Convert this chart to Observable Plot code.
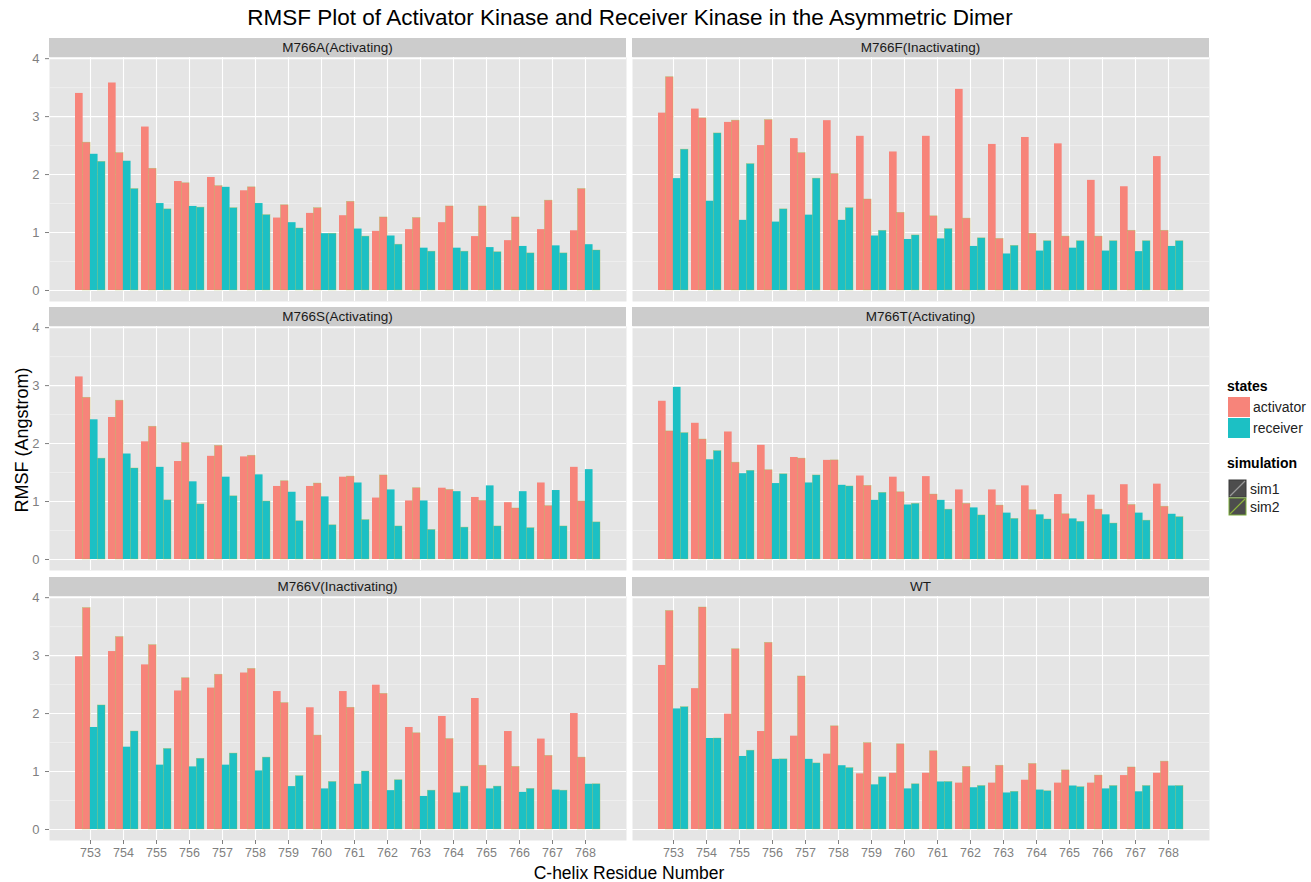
<!DOCTYPE html>
<html>
<head>
<meta charset="utf-8">
<script src="https://cdn.jsdelivr.net/npm/d3@7"></script>
<script src="https://cdn.jsdelivr.net/npm/@observablehq/plot@0.6"></script>
<style>
  html, body { margin: 0; padding: 0; background: #fff; }
  #root { position: relative; width: 1311px; height: 882px; font-family: "Liberation Sans", Arial, sans-serif; overflow: hidden; }
  .abs { position: absolute; }
  .strip { position: absolute; background: #CCCCCC; color: #1a1a1a; font-size: 13.5px; text-align: center; height: 19px; line-height: 20px; }
  .title { position: absolute; left: 0; width: 1260px; top: 5px; text-align: center; font-size: 22.5px; color: #000; }
  .xtitle { position: absolute; left: 49px; width: 1160px; top: 864px; height: 18px; line-height: 18px; text-align: center; font-size: 17.5px; color: #000; }
  .ytitle { position: absolute; left: 22px; top: 440px; transform: translate(-50%, -50%) rotate(-90deg); font-size: 18px; color: #000; white-space: nowrap; }
</style>
</head>
<body>
<div id="root"></div>
<script>
// ---------------- data ----------------
const residues = [753,754,755,756,757,758,759,760,761,762,763,764,765,766,767,768];
const panelNames = ["M766A(Activating)","M766F(Inactivating)","M766S(Activating)","M766T(Activating)","M766V(Inactivating)","WT"];
const stateNames = ["activator","receiver"];
const simNames = ["sim1","sim2"];
const yTicks = [0,1,2,3,4];
const yMinorTicks = [0.5,1.5,2.5,3.5];

// each panel: [activator sim1, activator sim2, receiver sim1, receiver sim2]
const M766A_actSim1 = [3.40,3.58,2.82,1.88,1.95,1.72,1.25,1.33,1.29,1.02,1.05,1.17,0.93,0.86,1.05,1.03];
const M766A_actSim2 = [2.55,2.37,2.10,1.85,1.80,1.78,1.47,1.42,1.53,1.26,1.25,1.45,1.45,1.26,1.55,1.75];
const M766A_recSim1 = [2.35,2.23,1.50,1.45,1.78,1.50,1.17,0.98,1.06,0.94,0.73,0.73,0.74,0.76,0.77,0.79];
const M766A_recSim2 = [2.22,1.75,1.40,1.43,1.42,1.30,1.07,0.98,0.93,0.79,0.67,0.67,0.66,0.64,0.64,0.69];

const M766F_actSim1 = [3.06,3.13,2.90,2.50,2.62,2.93,2.66,2.39,2.66,3.47,2.52,2.64,2.53,1.90,1.79,2.31];
const M766F_actSim2 = [3.68,2.97,2.93,2.94,2.37,2.01,1.57,1.34,1.28,1.24,0.89,0.98,0.93,0.93,1.03,1.03];
const M766F_recSim1 = [1.93,1.54,1.21,1.18,1.30,1.21,0.94,0.88,0.89,0.76,0.63,0.68,0.73,0.68,0.67,0.76];
const M766F_recSim2 = [2.43,2.71,2.18,1.40,1.93,1.42,1.03,0.95,1.06,0.90,0.77,0.85,0.85,0.85,0.85,0.85];

const M766S_actSim1 = [3.15,2.45,2.03,1.69,1.78,1.77,1.26,1.26,1.42,1.06,1.01,1.23,1.07,0.98,1.32,1.59];
const M766S_actSim2 = [2.79,2.74,2.29,2.01,1.96,1.79,1.35,1.31,1.43,1.45,1.23,1.20,1.01,0.88,0.92,1.00];
const M766S_recSim1 = [2.41,1.82,1.59,1.34,1.42,1.46,1.16,1.08,1.32,1.20,1.01,1.17,1.27,1.17,1.19,1.55];
const M766S_recSim2 = [1.74,1.57,1.02,0.95,1.09,1.00,0.66,0.59,0.68,0.57,0.51,0.55,0.57,0.54,0.57,0.64];

const M766T_actSim1 = [2.73,2.35,2.20,1.97,1.76,1.71,1.44,1.42,1.43,1.20,1.20,1.27,1.12,1.11,1.29,1.30];
const M766T_actSim2 = [2.21,2.07,1.67,1.54,1.74,1.71,1.27,1.16,1.12,0.96,0.93,0.85,0.78,0.86,0.94,0.91];
const M766T_recSim1 = [2.97,1.72,1.48,1.31,1.32,1.28,1.02,0.94,1.02,0.89,0.80,0.77,0.70,0.77,0.80,0.78];
const M766T_recSim2 = [2.18,1.87,1.53,1.47,1.45,1.26,1.15,0.96,0.86,0.76,0.70,0.69,0.65,0.62,0.67,0.73];

const M766V_actSim1 = [2.98,3.07,2.84,2.39,2.44,2.70,2.38,2.10,2.38,2.49,1.76,1.95,2.26,1.69,1.56,2.00];
const M766V_actSim2 = [3.82,3.32,3.18,2.61,2.67,2.77,2.18,1.62,2.10,2.34,1.66,1.56,1.10,1.08,1.27,1.24];
const M766V_recSim1 = [1.76,1.42,1.11,1.08,1.11,1.01,0.74,0.70,0.78,0.67,0.57,0.63,0.70,0.64,0.68,0.78];
const M766V_recSim2 = [2.14,1.69,1.39,1.22,1.31,1.24,0.92,0.82,1.00,0.85,0.67,0.74,0.74,0.70,0.67,0.78];

const WT_actSim1 = [2.83,2.43,1.99,1.69,1.61,1.30,0.96,0.97,0.97,0.80,0.80,0.85,0.80,0.80,0.93,0.97];
const WT_actSim2 = [3.77,3.83,3.11,3.22,2.64,1.78,1.49,1.47,1.35,1.08,1.10,1.13,1.02,0.93,1.07,1.17];
const WT_recSim1 = [2.08,1.57,1.26,1.21,1.21,1.10,0.77,0.70,0.82,0.72,0.63,0.68,0.75,0.70,0.65,0.75];
const WT_recSim2 = [2.11,1.57,1.36,1.21,1.14,1.06,0.90,0.78,0.82,0.75,0.65,0.66,0.73,0.75,0.75,0.75];

const panelSeries = [
  [M766A_actSim1, M766A_actSim2, M766A_recSim1, M766A_recSim2],
  [M766F_actSim1, M766F_actSim2, M766F_recSim1, M766F_recSim2],
  [M766S_actSim1, M766S_actSim2, M766S_recSim1, M766S_recSim2],
  [M766T_actSim1, M766T_actSim2, M766T_recSim1, M766T_recSim2],
  [M766V_actSim1, M766V_actSim2, M766V_recSim1, M766V_recSim2],
  [WT_actSim1, WT_actSim2, WT_recSim1, WT_recSim2]
];

// ---------------- styling / layout ----------------
const stateColors = ["#F7847A", "#1CC0C4"];
const simStroke = [null, "#A3B84A"];
const colX = [49, 632];
const rowY = [57, 326, 596];
const W = 577, H = 244;
const padOuter = 0.765, padInner = 0.1;
const FONT = '"Liberation Sans", Arial, sans-serif';

const root = document.getElementById("root");

function makePanel(idx) {
  const col = idx % 2, row = Math.floor(idx / 2);
  const ml = col === 0 ? 49 : 0;
  const mb = row === 2 ? 24 : 0;
  const step = W / (residues.length - padInner + 2 * padOuter);
  const q = step * (1 - padInner) / 4;
  const series = panelSeries[idx];

  const marks = [
    Plot.frame({fill: "#E5E5E5", stroke: "none"}),
    Plot.gridY(yMinorTicks, {stroke: "#F2F2F2", strokeOpacity: 1, strokeWidth: 0.7}),
    Plot.gridY(yTicks, {stroke: "#ffffff", strokeOpacity: 1, strokeWidth: 1.1}),
    Plot.gridX(residues, {stroke: "#ffffff", strokeOpacity: 1, strokeWidth: 1.1})
  ];
  for (let k = 0; k < 4; k++) {
    const state = Math.floor(k / 2), sim = k % 2;
    const rows = residues.map((r, i) => ({residue: r, value: series[k][i], state: stateNames[state], sim: simNames[sim]}));
    marks.push(Plot.rectY(rows, {
      x: "residue", y1: 0, y2: "value",
      fill: stateColors[state],
      stroke: simStroke[sim] || "none",
      strokeWidth: 0.6,
      strokeOpacity: 0.55,
      insetLeft: k * q,
      insetRight: (3 - k) * q
    }));
  }
  if (col === 0) {
    marks.push(Plot.axisY(yTicks, {tickSize: 4, tickPadding: 6, fontSize: 13, color: "#7F7F7F", label: null, tickFormat: d => String(d)}));
  }
  if (row === 2) {
    marks.push(Plot.axisX(residues, {tickSize: 4, tickPadding: 4, fontSize: 12.5, color: "#7F7F7F", label: null, tickFormat: d => String(d)}));
  }

  const chart = Plot.plot({
    width: W + ml,
    height: H + mb,
    marginLeft: ml, marginRight: 0, marginTop: 0, marginBottom: mb,
    style: {fontFamily: FONT, background: "transparent", overflow: "visible"},
    x: {type: "band", domain: residues, paddingInner: padInner, paddingOuter: padOuter, axis: null},
    y: {domain: [-0.19, 4.02], axis: null},
    marks
  });
  chart.classList.add("abs");
  chart.style.left = (colX[col] - ml) + "px";
  chart.style.top = rowY[row] + "px";
  root.appendChild(chart);

  const strip = document.createElement("div");
  strip.className = "strip";
  strip.style.left = colX[col] + "px";
  strip.style.top = (rowY[row] - 19) + "px";
  strip.style.width = W + "px";
  strip.textContent = panelNames[idx];
  root.appendChild(strip);
}

for (let i = 0; i < 6; i++) makePanel(i);

// titles
const t = document.createElement("div");
t.className = "title";
t.textContent = "RMSF Plot of Activator Kinase and Receiver Kinase in the Asymmetric Dimer";
root.appendChild(t);

const xt = document.createElement("div");
xt.className = "xtitle";
xt.textContent = "C-helix Residue Number";
root.appendChild(xt);

const yt = document.createElement("div");
yt.className = "ytitle";
yt.textContent = "RMSF (Angstrom)";
root.appendChild(yt);

// legend
const ns = "http://www.w3.org/2000/svg";
const leg = document.createElementNS(ns, "svg");
leg.setAttribute("width", 90); leg.setAttribute("height", 150);
leg.setAttribute("class", "abs");
leg.style.left = "1222px"; leg.style.top = "378px";
leg.style.fontFamily = FONT;
function el(tag, attrs, text) {
  const e = document.createElementNS(ns, tag);
  for (const k in attrs) e.setAttribute(k, attrs[k]);
  if (text != null) e.textContent = text;
  leg.appendChild(e);
  return e;
}
el("text", {x: 5, y: 13, "font-size": 14, "font-weight": "bold", fill: "#000"}, "states");
stateNames.forEach((s, i) => {
  el("rect", {x: 6, y: 19 + i * 21, width: 22, height: 20, fill: stateColors[i]});
  el("text", {x: 31, y: 34 + i * 21, "font-size": 14, fill: "#222"}, s);
});
el("text", {x: 5, y: 90, "font-size": 14, "font-weight": "bold", fill: "#000"}, "simulation");
const simKeyStroke = ["#3a3a3a", "#7CAE3C"];
const simDiag = ["#9a9a9a", "#8DB53C"];
simNames.forEach((s, i) => {
  const y0 = 102 + i * 18;
  el("rect", {x: 7, y: y0, width: 17, height: 17, fill: "#4D4D4D", stroke: simKeyStroke[i], "stroke-width": 1});
  el("line", {x1: 8, y1: y0 + 16, x2: 23, y2: y0 + 1, stroke: simDiag[i], "stroke-width": 1.2});
  el("text", {x: 28, y: y0 + 14, "font-size": 14, fill: "#222"}, s);
});
root.appendChild(leg);
</script>
</body>
</html>
